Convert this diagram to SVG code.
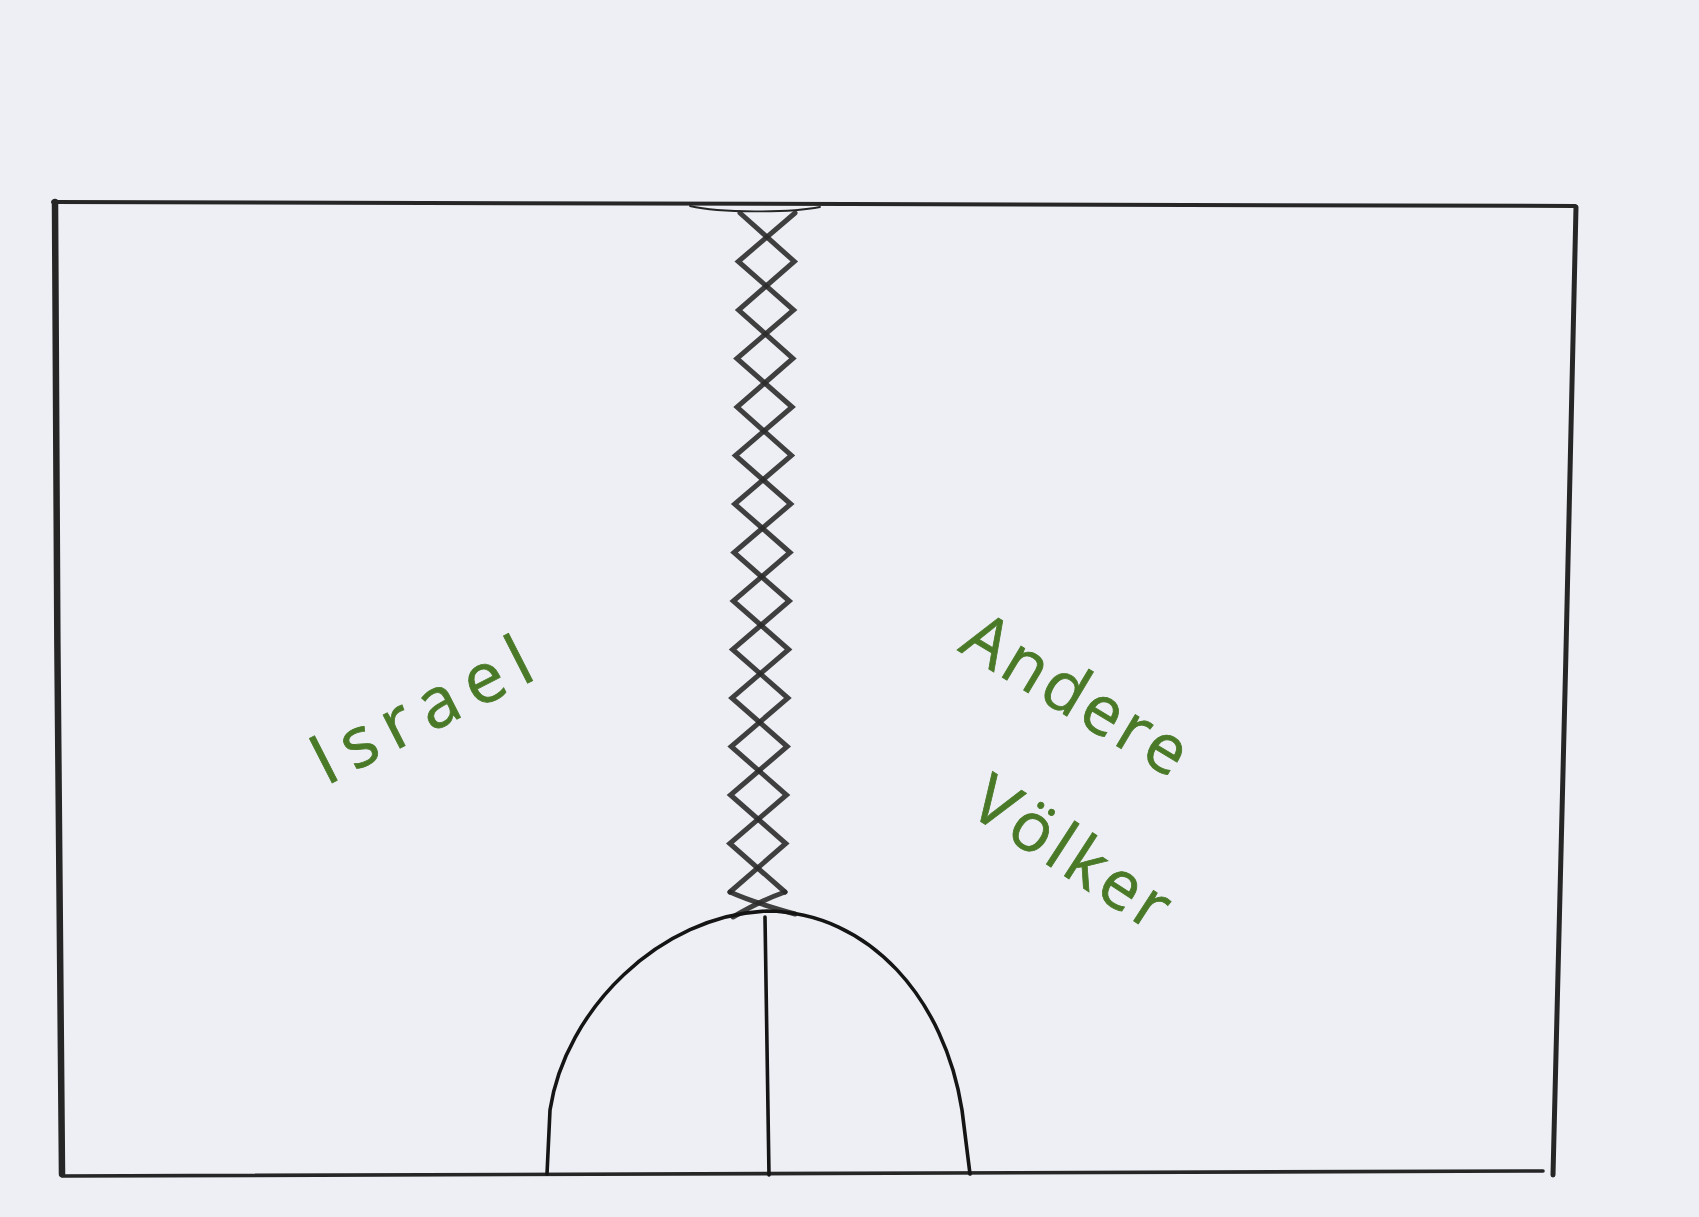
<svg xmlns="http://www.w3.org/2000/svg" width="1699" height="1217" viewBox="0 0 1699 1217">
  <style>
    .pencil { fill: none; stroke: #262626; stroke-linecap: round; stroke-linejoin: round; }
    .zip { fill: none; stroke: #2b2b2b; stroke-width: 5; stroke-linecap: round; stroke-linejoin: miter; opacity: 0.9; }
    .ink { fill: none; stroke: #151515; stroke-width: 3.6; stroke-linecap: round; stroke-linejoin: round; }
    .label { font-family: "Open Sans", "Liberation Sans", sans-serif; fill: #4a7a28; stroke: #4a7a28; stroke-width: 0.8; font-weight: 400; }
  </style>
  <rect x="0" y="0" width="1699" height="1217" fill="#edeff4"/>

  <g id="frame">
    <path class="pencil" stroke-width="4" d="M53 202 C 400 204, 900 208, 1575 206"/>
    <path class="pencil" stroke-width="6.5" stroke="#2f2f2f" d="M55 202 C 56 500, 59 900, 62 1174"/>
    <path class="pencil" stroke-width="5" d="M1576 207 C 1570 500, 1560 900, 1553 1175"/>
    <path class="pencil" stroke-width="3.6" d="M62 1176 C 500 1175, 1000 1174, 1543 1171"/>
    <path class="pencil" stroke-width="1.8" d="M690 206 C 720 213, 790 213, 820 207"/>
  </g>

  <g id="zipper">
    <polyline class="zip" points="740,213 794.3,261.5 738.6,310 792.9,358.5 737.1,407 791.4,455.5 734.7,504 790,552.5 733.3,601 788.6,649.5 731.9,698 787.2,746.5 730.5,795 785.8,843.5 730,892"/>
    <polyline class="zip" points="795,213 738.3,261.5 793.6,310 736.9,358.5 792.1,407 735.4,455.5 790.7,504 734,552.5 789.3,601 732.6,649.5 787.9,698 731.2,746.5 786.5,795 729.8,843.5 785,892"/>
    <path class="zip" d="M730 892 Q 752 902 795 914"/>
    <path class="zip" d="M785 892 Q 762 900 733 917"/>
  </g>

  <g id="arch">
    <path class="ink" d="M547 1174 L 550 1110 C 565 1010, 660 915, 767 911 C 870 912, 945 1000, 962 1110 L 970 1174"/>
    <path class="ink" d="M765 917 L 769 1175"/>
  </g>

  <g id="labels">
    <text id="israel" class="label" x="326" y="786" font-size="70" textLength="238" lengthAdjust="spacing" transform="rotate(-27 326 786)">Israel</text>
    <text id="andere" class="label" x="957" y="650" font-size="68" textLength="250" lengthAdjust="spacing" transform="rotate(31 957 650)">Andere</text>
    <text id="voelker" class="label" x="966" y="812" font-size="68" textLength="222" lengthAdjust="spacing" transform="rotate(33 966 812)">Völker</text>
  </g>
</svg>
